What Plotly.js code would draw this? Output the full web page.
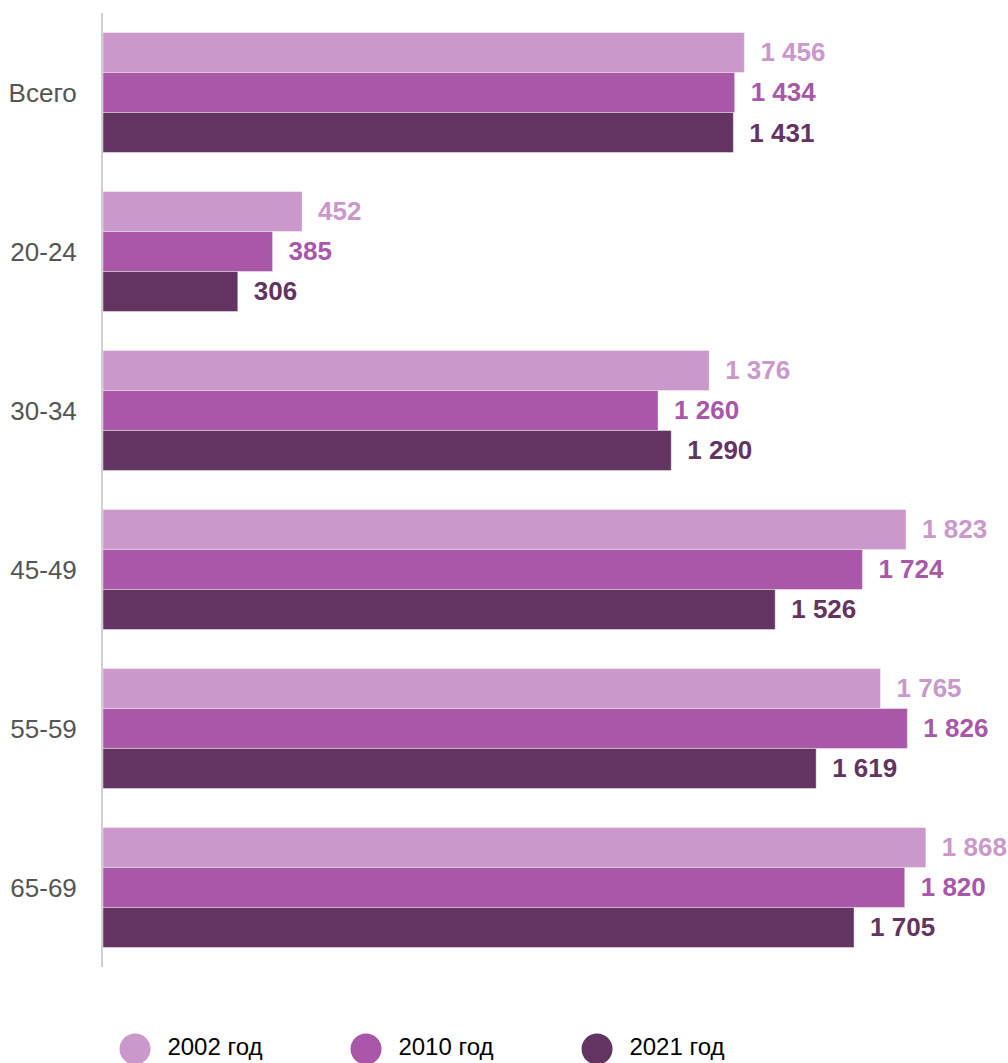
<!DOCTYPE html>
<html>
<head>
<meta charset="utf-8">
<script src="https://cdn.plot.ly/plotly-3.0.1.min.js"></script>
<style>html,body{margin:0;padding:0;background:#fff;}#chart{width:1008px;height:1063px;}</style>
</head>
<body>
<div id="chart"></div>
<script>
const categories = ["Всего", "20-24", "30-34", "45-49", "55-59", "65-69"];
const seriesNames = ["2002 год", "2010 год", "2021 год"];
const values2002 = [1456, 452, 1376, 1823, 1765, 1868];
const values2010 = [1434, 385, 1260, 1724, 1826, 1820];
const values2021 = [1431, 306, 1290, 1526, 1619, 1705];
const colors = ["#CA98CB", "#A957A8", "#633362"];

function fmt(v) {
  return String(v).replace(/\B(?=(\d{3})+(?!\d))/g, " ");
}

const allValues = [values2002, values2010, values2021];
const traces = allValues.map((vals, i) => ({
  type: "bar",
  orientation: "h",
  name: seriesNames[i],
  y: categories,
  x: vals,
  marker: { color: colors[i], line: { width: 0.6, color: "rgba(255,255,255,0.7)" } },
  text: vals.map(v => "\u2002" + fmt(v)),
  textposition: "outside",
  constraintext: "none",
  cliponaxis: false,
  textfont: { family: "Liberation Sans, Arial, sans-serif", size: 26, color: colors[i], weight: 700 },
  showlegend: false,
  hoverinfo: "skip"
}));

// custom legend drawn as a scatter in its own small subplot
traces.push({
  type: "scatter",
  mode: "markers+text",
  x: seriesNames.map((_, i) => i),
  y: seriesNames.map(() => 0),
  xaxis: "x2",
  yaxis: "y2",
  text: seriesNames.map(s => "\u2002" + s),
  textposition: "middle right",
  textfont: { family: "Liberation Sans, Arial, sans-serif", size: 24, color: "#000" },
  marker: { size: 31, color: colors, symbol: "circle" },
  cliponaxis: false,
  showlegend: false,
  hoverinfo: "skip"
});

const layout = {
  width: 1008,
  height: 1063,
  margin: { l: 103, r: 24, t: 13, b: 0 },
  paper_bgcolor: "#fff",
  plot_bgcolor: "#fff",
  barmode: "group",
  bargap: 0.245,
  bargroupgap: 0,
  showlegend: false,
  xaxis: {
    range: [0, 2000],
    showgrid: false,
    zeroline: false,
    showticklabels: false,
    showline: false,
    fixedrange: true
  },
  yaxis: {
    domain: [0.0915, 1],
    type: "category",
    categoryorder: "array",
    categoryarray: categories,
    autorange: "reversed",
    showline: true,
    linecolor: "#d0d0d0",
    linewidth: 2,
    ticks: "",
    ticklabelstandoff: 19,
    tickfont: { family: "Liberation Sans, Arial, sans-serif", size: 26, color: "#555" },
    showgrid: false,
    zeroline: false
  },
  xaxis2: {
    anchor: "y2",
    domain: [0, 1],
    range: [-0.1385, 3.675],
    visible: false,
    fixedrange: true
  },
  yaxis2: {
    anchor: "x2",
    domain: [0, 0.0266],
    range: [-1, 1],
    visible: false,
    fixedrange: true
  }
};

Plotly.newPlot("chart", traces, layout, { displayModeBar: false, staticPlot: true });
</script>
</body>
</html>
